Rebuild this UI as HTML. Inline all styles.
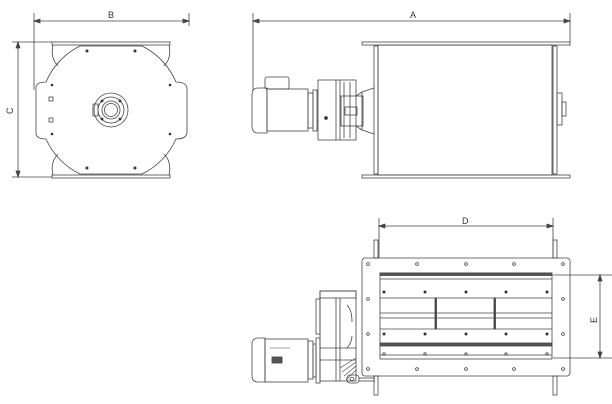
<!DOCTYPE html>
<html><head><meta charset="utf-8"><style>
html,body{margin:0;padding:0;background:#fff;width:612px;height:404px;overflow:hidden}
svg{display:block}
text{font-family:"Liberation Sans",sans-serif;font-size:9px;fill:#333}
</style></head><body>
<svg width="612" height="404" viewBox="0 0 612 404" fill="none" stroke="#444" stroke-width="0.8">
<!-- LEFT VIEW -->
<g>
<line x1="34" y1="13" x2="34" y2="90"/><line x1="189" y1="13" x2="189" y2="26"/>
<line x1="34" y1="21" x2="189" y2="21"/>
<path d="M34 21 l6 -2 v4z M189 21 l-6 -2 v4z" fill="#444"/>
<text x="108" y="18" stroke="none">B</text>
<line x1="12" y1="42" x2="52" y2="42"/><line x1="12" y1="177" x2="52" y2="177"/>
<line x1="18" y1="42" x2="18" y2="177"/>
<path d="M18 42 l-2 6 h4z M18 177 l-2 -6 h4z" fill="#444"/>
<text x="6" y="113" stroke="none" transform="rotate(-90 10 110)">C</text>
<rect x="52" y="42" width="118" height="3"/>
<rect x="52" y="175" width="118" height="3"/>
<path d="M53 45 Q50 58 58 66 M169 45 Q172 58 164 66 M53 175 Q50 162 58 154 M169 175 Q172 162 164 154"/>
<path d="M80 46 L142 46 A71 71 0 0 1 176 82 Q186 82 187 88 L187 133 Q186 139 176 139 A71 71 0 0 1 142 174 L80 174 A71 71 0 0 1 46 139 Q36 139 36 133 L36 88 Q36 82 46 82 A71 71 0 0 1 80 46 Z"/>
<g fill="#333" stroke="none">
<circle cx="87" cy="51" r="1.5"/><circle cx="135" cy="51" r="1.5"/>
<circle cx="87" cy="168" r="1.5"/><circle cx="135" cy="168" r="1.5"/>
<circle cx="52" cy="85" r="1.3"/><circle cx="170" cy="85" r="1.3"/>
<circle cx="52" cy="134" r="1.3"/><circle cx="170" cy="134" r="1.3"/>
</g>
<rect x="49" y="97" width="4" height="4"/><rect x="49" y="118" width="4" height="4"/>
<circle cx="111" cy="110" r="17"/><circle cx="111" cy="110" r="13"/>
<circle cx="111" cy="110" r="9"/><circle cx="111" cy="110" r="6.5"/>
<rect x="93" y="104" width="5" height="12"/>
<g fill="#333" stroke="none"><circle cx="102" cy="101" r="1.4"/><circle cx="120" cy="101" r="1.4"/><circle cx="102" cy="119" r="1.4"/><circle cx="120" cy="119" r="1.4"/></g>
</g>
<!-- SIDE VIEW -->
<g>
<line x1="253" y1="13" x2="253" y2="90"/><line x1="570" y1="13" x2="570" y2="43"/>
<line x1="253" y1="21" x2="570" y2="21"/>
<path d="M253 21 l6 -2 v4z M570 21 l-6 -2 v4z" fill="#444"/>
<text x="410" y="18" stroke="none">A</text>
<rect x="362" y="42" width="208" height="3"/>
<rect x="362" y="175" width="208" height="3"/>
<rect x="378" y="45" width="174" height="130"/>
<rect x="374" y="46" width="4" height="128"/>
<rect x="553" y="46" width="4" height="128"/>
<rect x="557" y="93" width="5" height="32"/><rect x="562" y="102" width="4" height="14"/>
<path d="M252 95 Q252 88 258 88 L267 88 L267 133 L258 133 Q252 133 252 126 Z"/>
<rect x="267" y="89" width="41" height="42"/>
<rect x="265" y="77" width="24" height="12" rx="2"/>
<rect x="308" y="93" width="5" height="35"/><rect x="313" y="90" width="4" height="41"/>
<rect x="318" y="80" width="38" height="60"/>
<line x1="336" y1="80" x2="336" y2="140"/><line x1="340" y1="80" x2="340" y2="140"/>
<line x1="344" y1="82" x2="344" y2="138"/><line x1="350" y1="82" x2="350" y2="138"/>
<circle cx="326" cy="118" r="1.5" fill="#333"/>
<rect x="341" y="96" width="22" height="30"/>
<rect x="345" y="107" width="12" height="8"/>
<path d="M356 96 L362 92 L374 88 M356 126 L362 130 L374 134 M362 92 L362 130"/>
</g>
<!-- BOTTOM VIEW -->
<g>
<line x1="379" y1="218" x2="379" y2="258"/><line x1="553" y1="218" x2="553" y2="258"/>
<line x1="379" y1="226" x2="553" y2="226"/>
<path d="M379 226 l6 -2 v4z M553 226 l-6 -2 v4z" fill="#444"/>
<text x="462" y="224" stroke="none">D</text>
<line x1="553" y1="275" x2="612" y2="275"/><line x1="553" y1="358" x2="612" y2="358"/>
<line x1="600" y1="275" x2="600" y2="358"/>
<path d="M600 275 l-2 6 h4z M600 358 l-2 -6 h4z" fill="#444"/>
<text x="588" y="320" stroke="none" transform="rotate(-90 594 317)">E</text>
<rect x="374" y="240" width="4" height="18"/><rect x="553" y="240" width="4" height="18"/>
<rect x="374" y="376" width="4" height="19"/><rect x="553" y="376" width="4" height="19"/>
<rect x="362" y="258" width="208" height="118" rx="3"/>
<rect x="380" y="273" width="172" height="86"/>
<rect x="380" y="273" width="172" height="2.5" fill="#555"/>
<line x1="380" y1="279" x2="552" y2="279"/>
<line x1="380" y1="298" x2="552" y2="298"/><line x1="380" y1="329" x2="552" y2="329"/>
<line x1="380" y1="313" x2="552" y2="313"/><line x1="380" y1="318" x2="552" y2="318"/>
<rect x="435" y="298" width="1.5" height="31" fill="#444"/><rect x="494" y="298" width="1.5" height="31" fill="#444"/>
<rect x="380" y="343" width="172" height="3" fill="#555"/>
<line x1="380" y1="355" x2="552" y2="355"/>
<g fill="none" stroke="#444">
<circle cx="368" cy="264" r="1.4"/><circle cx="417" cy="264" r="1.4"/><circle cx="466" cy="264" r="1.4"/><circle cx="514" cy="264" r="1.4"/><circle cx="563" cy="264" r="1.4"/>
<circle cx="368" cy="369" r="1.4"/><circle cx="417" cy="369" r="1.4"/><circle cx="466" cy="369" r="1.4"/><circle cx="514" cy="369" r="1.4"/><circle cx="563" cy="369" r="1.4"/>
<circle cx="368" cy="299" r="1.4"/><circle cx="368" cy="334" r="1.4"/><circle cx="563" cy="299" r="1.4"/><circle cx="563" cy="334" r="1.4"/>
<circle cx="384" cy="354" r="1.2"/><circle cx="425" cy="354" r="1.2"/><circle cx="466" cy="354" r="1.2"/><circle cx="506" cy="354" r="1.2"/><circle cx="547" cy="354" r="1.2"/>
</g>
<g fill="#333" stroke="none">
<circle cx="384" cy="292" r="1.5"/><circle cx="425" cy="292" r="1.5"/><circle cx="466" cy="292" r="1.5"/><circle cx="506" cy="292" r="1.5"/><circle cx="547" cy="292" r="1.5"/>
<circle cx="384" cy="334" r="1.5"/><circle cx="425" cy="334" r="1.5"/><circle cx="466" cy="334" r="1.5"/><circle cx="506" cy="334" r="1.5"/><circle cx="547" cy="334" r="1.5"/>
</g>
<!-- drive -->
<rect x="320" y="291" width="36" height="90"/>
<rect x="320" y="291" width="36" height="7"/>
<rect x="316" y="299" width="4" height="35"/><rect x="316" y="338" width="4" height="45"/>
<line x1="336" y1="298" x2="336" y2="381"/><line x1="340" y1="298" x2="340" y2="381"/>
<line x1="320" y1="348" x2="356" y2="348"/><line x1="320" y1="360" x2="356" y2="360"/>
<path d="M340 368 L356 358 M342 372 L356 362 M344 376 L356 366 M346 380 L356 370" stroke-width="0.6"/>
<path d="M347 305 Q352 310 352 322 M347 348 Q352 342 352 336"/>
<rect x="347" y="375" width="12" height="8" rx="3"/><ellipse cx="352" cy="379" rx="2" ry="1.5"/>
<line x1="359" y1="378" x2="375" y2="378"/><line x1="359" y1="381" x2="375" y2="381"/>
<path d="M252 344 Q252 338 258 338 L265 338 L265 382 L258 382 Q252 382 252 376 Z"/>
<rect x="265" y="339" width="43" height="43"/>
<rect x="272" y="357" width="10" height="6" fill="#555"/>
<line x1="270" y1="348" x2="290" y2="348" stroke-width="0.6"/>
<rect x="308" y="341" width="5" height="38"/><rect x="313" y="344" width="3" height="33"/>
</g>
</svg>
</body></html>
